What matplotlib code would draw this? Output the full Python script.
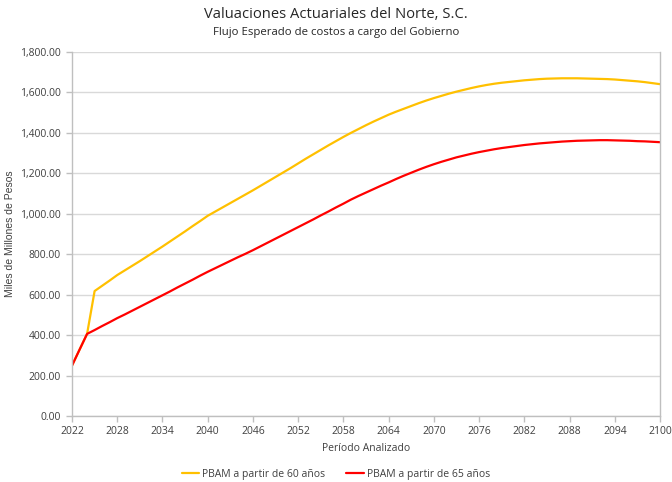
import matplotlib
matplotlib.use("Agg")
import matplotlib.pyplot as plt
from matplotlib.ticker import FuncFormatter, MultipleLocator

years = list(range(2022, 2101))

pbam_60 = [250, 328, 406, 618, 644, 670, 697, 720, 743, 766,
           790, 814, 838, 863, 888, 913, 939, 964, 990, 1011,
           1032, 1053, 1074, 1095, 1116, 1138, 1160, 1182, 1204, 1226,
           1249, 1272, 1294, 1316, 1338, 1359, 1380, 1400, 1419, 1438,
           1456, 1473, 1490, 1505, 1519, 1533, 1547, 1560, 1572, 1583,
           1594, 1604, 1613, 1622, 1630, 1637, 1643, 1648, 1652, 1656,
           1660, 1663, 1666, 1668, 1669, 1670, 1670, 1670, 1669, 1668,
           1667, 1666, 1664, 1661, 1658, 1655, 1651, 1646, 1641]

pbam_65 = [249, 328, 406, 425, 445, 464, 484, 502, 521, 540,
           559, 578, 597, 616, 636, 655, 674, 694, 713, 731,
           749, 767, 785, 802, 820, 839, 858, 877, 896, 915,
           934, 953, 972, 992, 1011, 1031, 1050, 1070, 1088, 1105,
           1122, 1139, 1155, 1172, 1188, 1203, 1218, 1232, 1245, 1257,
           1268, 1279, 1288, 1297, 1305, 1312, 1319, 1325, 1330, 1335,
           1340, 1344, 1348, 1351, 1354, 1357, 1359, 1361, 1362, 1363,
           1364, 1364, 1363, 1362, 1361, 1359, 1358, 1356, 1354]

series_labels = ["PBAM a partir de 60 años", "PBAM a partir de 65 años"]
series_colors = ["#FFC000", "#FF0000"]

title = "Valuaciones Actuariales del Norte, S.C."
subtitle = "Flujo Esperado de costos a cargo del Gobierno"
xlabel = "Período Analizado"
ylabel = "Miles de Millones de Pesos"

plt.rcParams['font.family'] = ['Open Sans', 'DejaVu Sans']

fig = plt.figure(figsize=(6.72, 4.82), dpi=100)
ax = fig.add_axes([72/672, 1-416/482, (660-72)/672, (416-52)/482])

for vals, lab, col in zip([pbam_60, pbam_65], series_labels, series_colors):
    ax.plot(years, vals, color=col, lw=1.6, label=lab, solid_capstyle='round')

ax.set_xlim(2022, 2100)
ax.set_ylim(0, 1800)
ax.xaxis.set_major_locator(MultipleLocator(6))
ax.yaxis.set_major_locator(MultipleLocator(200))
ax.yaxis.set_major_formatter(FuncFormatter(lambda v, p: f"{v:,.2f}"))

ax.grid(axis='y', color='#d9d9d9', lw=1)
ax.set_axisbelow(True)
for s in ['left', 'bottom', 'right']:
    ax.spines[s].set_color('#bfbfbf')
    ax.spines[s].set_linewidth(1)
ax.spines['top'].set_visible(False)
ax.tick_params(axis='both', colors='#bfbfbf', labelcolor='#404040', labelsize=7.5, length=4, width=1)
ax.tick_params(axis='y', pad=4)

ax.set_xlabel(xlabel, fontsize=7.5, color='#404040', labelpad=4)
ax.set_ylabel(ylabel, fontsize=7.5, color='#404040', family=['Liberation Sans'])
ax.yaxis.set_label_coords(-0.097, 0.5)

fig.text(0.5, 1-15/482, title, ha='center', va='center', fontsize=10.6, color='#262626')
fig.text(0.5, 1-32/482, subtitle, ha='center', va='center', fontsize=8.2, color='#262626')

fig.legend(loc='center', bbox_to_anchor=(0.5, 1-474/482), ncol=2, frameon=False,
           fontsize=7.5, handlelength=1.7, columnspacing=2.0, handletextpad=0.3,
           labelcolor='#404040')

fig.savefig("out.png", dpi=100)
